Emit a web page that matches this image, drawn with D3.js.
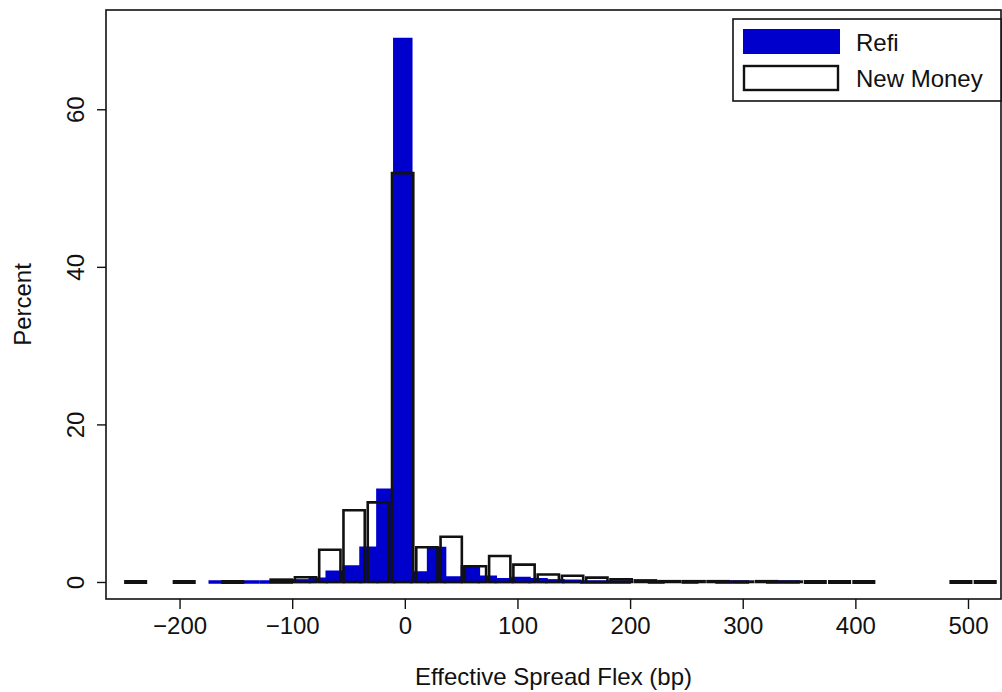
<!DOCTYPE html>
<html>
<head>
<meta charset="utf-8">
<script src="https://cdn.jsdelivr.net/npm/d3@7"></script>
<style>
  html, body { margin: 0; padding: 0; background: #fff; }
  svg { display: block; font-family: "Liberation Sans", Arial, Helvetica, sans-serif; }
</style>
</head>
<body>
<svg id="chart" width="1002" height="692"></svg>
<script>
// ---- data ----
const seriesNames = ["Refi", "New Money"];
// Refi histogram: first bin left edge, bin width (bp), percent per bin (null = bin not drawn)
const refiBinStart = -174.3;
const refiBinWidth = 15.0;
const refiPercent = [
  0, 0, 0, 0, 0, 0.2, 0.4, 1.3, 1.95, 4.35, 11.7, 68.9,
  1.2, 4.3, 0.55, 1.95, 0.65, 0.35, 0.5, 0.35, 0.2, 0.15, 0, 0,
  0, null, 0, null, 0, null, 0, 0, null, 0, 0
];
// New Money histogram
const nmBinStart = -249.75;
const nmBinWidth = 21.55;
const nmPercent = [
  0, null, 0, null, 0, null, 0.3, 0.6, 4.1, 9.1, 10.1, 51.9,
  4.4, 5.75, 2.0, 3.3, 2.2, 0.95, 0.8, 0.55, 0.35, 0.2, 0.1, 0.1,
  0.1, 0.05, 0.1, 0.05, 0, 0, 0, null, null, null, 0, 0
];
const xTicks = [-200, -100, 0, 100, 200, 300, 400, 500];
const yTicks = [0, 20, 40, 60];
const xTitle = "Effective Spread Flex (bp)";
const yTitle = "Percent";

// ---- layout ----
const svg = d3.select("#chart");
const plot = { left: 106, right: 1001, top: 10, bottom: 599 };
const x = d3.scaleLinear().domain([-265.3, 529.3]).range([plot.left, plot.right]);
const y = d3.scaleLinear().domain([-2.16, 72.6]).range([plot.bottom, plot.top]);
const BLUE = "#0000CC";
const FS = 24;

const refiData = refiPercent.map((v, i) => ({ x0: refiBinStart + i * refiBinWidth, x1: refiBinStart + (i + 1) * refiBinWidth, v }))
  .filter(d => d.v !== null);
const nmData = nmPercent.map((v, i) => ({ x0: nmBinStart + i * nmBinWidth, x1: nmBinStart + (i + 1) * nmBinWidth, v }))
  .filter(d => d.v !== null);

// bar outline as a path so zero-height bins still show their stroke
function barPath(d, inset) {
  const a = x(d.x0) + inset, b = x(d.x1) - inset, t = y(d.v), base = y(0);
  return `M${a},${base}V${t}H${b}V${base}Z`;
}

svg.append("defs").append("clipPath").attr("id", "clip")
  .append("rect").attr("x", plot.left).attr("y", plot.top)
  .attr("width", plot.right - plot.left).attr("height", plot.bottom - plot.top);

const g = svg.append("g").attr("clip-path", "url(#clip)");

// Refi bars
g.append("g").selectAll("path").data(refiData).join("path")
  .attr("d", d => barPath(d, 0))
  .attr("fill", BLUE)
  .attr("stroke", BLUE)
  .attr("stroke-width", d => d.v === 0 ? 3.6 : 2.6)
  .attr("stroke-linejoin", "miter");

// New Money bars (outline only)
g.append("g").selectAll("path").data(nmData).join("path")
  .attr("d", d => barPath(d, d.v === 0 ? 0.6 : 1.5))
  .attr("fill", "none")
  .attr("stroke", "#111")
  .attr("stroke-width", d => d.v === 0 ? 3.8 : 2.6)
  .attr("stroke-linejoin", "miter");

// frame (plot region outline)
svg.append("rect")
  .attr("x", plot.left).attr("y", plot.top)
  .attr("width", plot.right - plot.left).attr("height", plot.bottom - plot.top)
  .attr("fill", "none").attr("stroke", "#111").attr("stroke-width", 1.6);

// y axis
const yAxis = d3.axisLeft(y).tickValues(yTicks).tickSize(9).tickPadding(6).tickFormat(d3.format("d"));
const ya = svg.append("g").attr("transform", `translate(${plot.left},0)`).call(yAxis);
ya.select(".domain").remove();
ya.selectAll(".tick line").attr("stroke", "#111").attr("stroke-width", 1.4);
ya.selectAll(".tick text")
  .attr("font-size", FS).attr("fill", "#111")
  .attr("x", null).attr("dy", null)
  .attr("text-anchor", "middle")
  .attr("transform", "translate(-22,0) rotate(-90)")
  .attr("y", 0);

// x axis
const xAxis = d3.axisBottom(x).tickValues(xTicks).tickSize(10).tickPadding(8)
  .tickFormat(d => d < 0 ? "\u2212" + Math.abs(d) : String(d));
const xa = svg.append("g").attr("transform", `translate(0,${plot.bottom})`).call(xAxis);
xa.select(".domain").remove();
xa.selectAll(".tick line").attr("stroke", "#111").attr("stroke-width", 1.4);
xa.selectAll(".tick text").attr("font-size", FS).attr("fill", "#111");

// titles
svg.append("text")
  .attr("x", (plot.left + plot.right) / 2).attr("y", 685)
  .attr("text-anchor", "middle").attr("font-size", FS).attr("fill", "#111")
  .text(xTitle);
svg.append("text")
  .attr("transform", `translate(31,${(plot.top + plot.bottom) / 2}) rotate(-90)`)
  .attr("text-anchor", "middle").attr("font-size", FS).attr("fill", "#111")
  .text(yTitle);

// legend
const lg = svg.append("g");
lg.append("rect").attr("x", 733).attr("y", 19).attr("width", 268).attr("height", 82)
  .attr("fill", "#fff").attr("stroke", "#111").attr("stroke-width", 1.6);
lg.append("rect").attr("x", 743).attr("y", 29).attr("width", 97).attr("height", 25)
  .attr("fill", BLUE);
lg.append("rect").attr("x", 744).attr("y", 66).attr("width", 94).attr("height", 24)
  .attr("fill", "#fff").attr("stroke", "#111").attr("stroke-width", 2.4);
lg.append("text").attr("x", 856).attr("y", 51).attr("font-size", FS).attr("fill", "#111").text(seriesNames[0]);
lg.append("text").attr("x", 856).attr("y", 87).attr("font-size", FS).attr("fill", "#111").text(seriesNames[1]);
</script>
</body>
</html>
